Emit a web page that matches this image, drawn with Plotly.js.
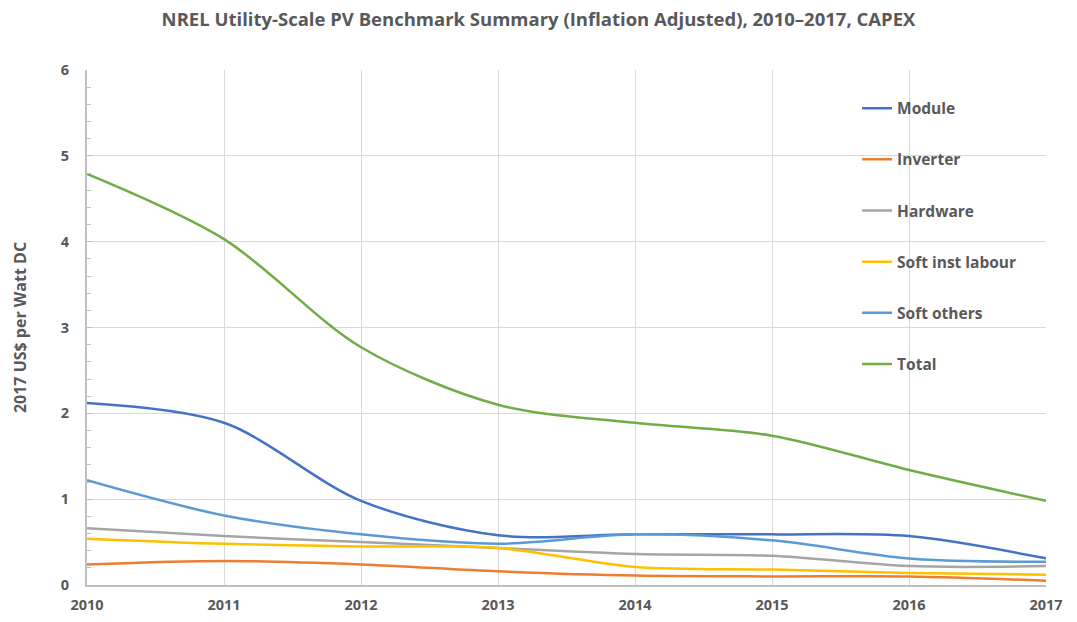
<!DOCTYPE html>
<html>
<head>
<meta charset="utf-8">
<script src="https://cdn.plot.ly/plotly-3.0.1.min.js"></script>
<style>html,body{margin:0;padding:0;background:#fff;}#chart{width:1077px;height:622px;}</style>
</head>
<body>
<div id="chart"></div>
<script>
const years = [2010, 2011, 2012, 2013, 2014, 2015, 2016, 2017];
const module_ = [2.12, 1.89, 0.98, 0.58, 0.59, 0.59, 0.57, 0.31];
const inverter = [0.24, 0.28, 0.24, 0.16, 0.11, 0.10, 0.10, 0.05];
const hardware = [0.66, 0.57, 0.50, 0.43, 0.36, 0.34, 0.22, 0.22];
const softInstLabour = [0.54, 0.48, 0.45, 0.43, 0.21, 0.18, 0.14, 0.12];
const softOthers = [1.22, 0.81, 0.59, 0.48, 0.59, 0.52, 0.31, 0.27];
const total = [4.79, 4.03, 2.77, 2.10, 1.89, 1.74, 1.34, 0.98];

const seriesNames = ['Module', 'Inverter', 'Hardware', 'Soft inst labour', 'Soft others', 'Total'];
const seriesValues = [module_, inverter, hardware, softInstLabour, softOthers, total];
const seriesColors = ['#4472C4', '#ED7D31', '#A5A5A5', '#FFC000', '#5B9BD5', '#70AD47'];

const FONT = '"Open Sans", Lato, sans-serif';
const GRAY = '#595959';

const traces = seriesNames.map((n, i) => ({
  type: 'scatter', mode: 'lines', name: n, x: years, y: seriesValues[i],
  legendgroup: 'g' + i,
  line: {color: seriesColors[i], width: 2.5, shape: 'spline', smoothing: 0.9}
}));

const layout = {
  width: 1077, height: 622,
  margin: {l: 87, r: 31, t: 70, b: 37},
  paper_bgcolor: '#fff', plot_bgcolor: '#fff',
  title: {text: 'NREL Utility-Scale PV Benchmark Summary (Inflation Adjusted), 2010–2017, CAPEX',
    x: 0.5, xanchor: 'center', y: 0.968, yanchor: 'middle',
    font: {family: FONT, size: 18.5, color: GRAY, weight: 'bold'}},
  xaxis: {range: [2010, 2017], tickvals: years, ticktext: years.map(String),
    showgrid: true, gridcolor: '#d9d9d9', gridwidth: 1,
    showline: true, linecolor: '#bfbfbf', linewidth: 2,
    ticks: '', zeroline: false, ticklabelstandoff: 6,
    tickfont: {family: FONT, size: 14.5, color: GRAY, weight: 'bold'}},
  yaxis: {range: [0, 6], dtick: 1, tick0: 0,
    showgrid: true, gridcolor: '#d9d9d9', gridwidth: 1,
    showline: true, linecolor: '#bfbfbf', linewidth: 2,
    ticks: 'inside', ticklen: 5, tickcolor: '#bfbfbf', zeroline: false,
    ticklabelstandoff: 13,
    minor: {dtick: 0.2, ticks: 'inside', ticklen: 4, tickcolor: '#bfbfbf', showgrid: false},
    tickfont: {family: FONT, size: 14.5, color: GRAY, weight: 'bold'},
    title: {text: '2017 US$ per Watt DC', standoff: 30,
      font: {family: FONT, size: 16, color: GRAY, weight: 'bold'}}},
  legend: {x: 0.803, xanchor: 'left', y: 0.958, yanchor: 'top',
    bgcolor: 'rgba(0,0,0,0)', traceorder: 'grouped', tracegroupgap: 28,
    font: {family: FONT, size: 15.5, color: GRAY, weight: 'bold'},
    itemwidth: 30}
};

Plotly.newPlot('chart', traces, layout, {displayModeBar: false});
</script>
</body>
</html>
